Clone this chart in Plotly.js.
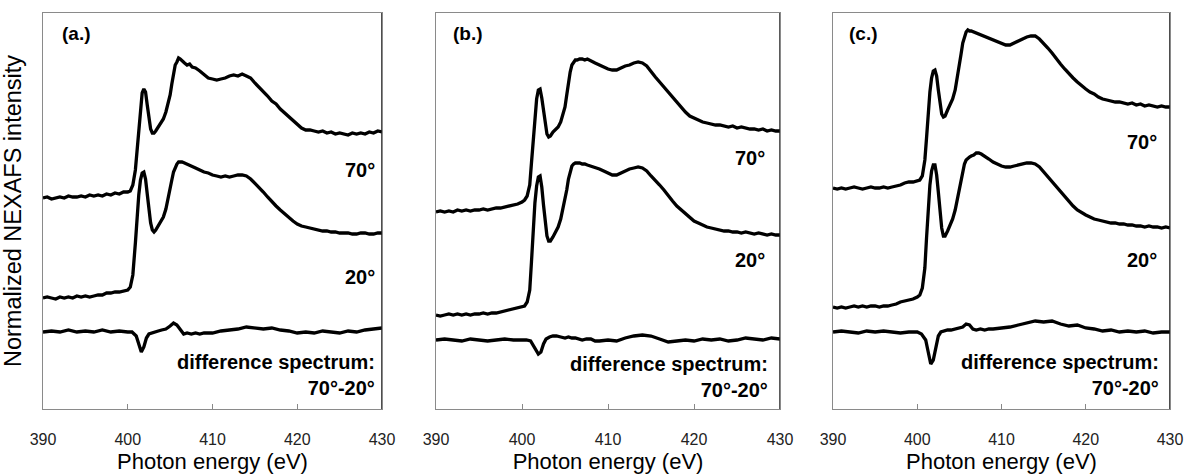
<!DOCTYPE html>
<html>
<head>
<meta charset="utf-8">
<script src="https://cdn.plot.ly/plotly-3.0.1.min.js"></script>
<style>html,body{margin:0;padding:0;background:#fff;}#chart{width:1186px;height:475px;}</style>
</head>
<body>
<div id="chart"></div>
<script>
// Photon energy grid (eV) for the 70° and 20° spectra
const energy = [390,390.5,391,391.5,392,392.5,393,393.5,394,394.5,395,395.5,396,396.5,397,397.5,398,398.5,399,399.5,400,
  400.3,400.6,400.9,401.1,401.3,401.5,401.7,401.9,402.1,402.3,402.5,402.7,402.9,403.1,403.3,403.6,403.9,404.2,404.5,404.8,
  405,405.2,405.4,405.6,405.8,406,406.2,406.4,406.7,407,407.3,407.6,
  408,408.5,409,409.5,410,410.5,411,411.5,412,412.5,413,413.5,414,414.5,415,415.5,416,416.5,417,417.5,
  418,418.5,419,419.5,420,420.5,421,421.5,422,422.5,423,423.5,424,424.5,425,425.5,426,426.5,427,427.5,428,428.5,429,429.5,430];

// Photon energy grid (eV) for the difference spectra
const energyDiff = [390,391,392,393,394,395,396,397,398,399,400,
  400.5,401,401.3,401.6,401.9,402.2,402.5,402.8,403.2,403.6,404,404.5,405,405.4,405.8,406.2,406.6,407,407.5,408,408.5,409,
  410,411,412,413,414,415,416,417,418,419,420,421,422,423,424,425,426,427,428,429,430];

// Panel (a.) – offset intensities (arb. units)
const a70 = [2.11,2.12,2.10,2.11,2.12,2.11,2.13,2.12,2.12,2.13,2.12,2.14,2.13,2.14,2.13,2.15,2.14,2.16,2.15,2.17,2.17,
  2.18,2.24,2.39,2.59,2.84,3.04,3.16,3.20,3.17,3.04,2.89,2.80,2.76,2.76,2.78,2.82,2.85,2.90,2.97,3.07,
  3.14,3.25,3.37,3.44,3.47,3.51,3.50,3.48,3.46,3.44,3.45,3.42,
  3.41,3.38,3.34,3.31,3.30,3.29,3.30,3.31,3.33,3.34,3.33,3.35,3.33,3.31,3.26,3.22,3.17,3.13,3.08,3.05,
  3.00,2.96,2.92,2.88,2.84,2.81,2.79,2.79,2.78,2.77,2.78,2.76,2.77,2.75,2.76,2.75,2.74,2.76,2.75,2.76,2.75,2.77,2.76,2.78,2.77];
const a20 = [1.11,1.12,1.11,1.10,1.12,1.11,1.12,1.11,1.13,1.12,1.13,1.12,1.13,1.14,1.14,1.16,1.16,1.17,1.17,1.18,1.19,
  1.22,1.34,1.66,1.92,2.14,2.29,2.36,2.37,2.30,2.15,1.99,1.86,1.79,1.77,1.79,1.83,1.87,1.92,2.00,2.11,
  2.19,2.29,2.37,2.42,2.45,2.47,2.47,2.47,2.46,2.45,2.44,2.43,
  2.41,2.39,2.37,2.36,2.34,2.33,2.32,2.33,2.32,2.33,2.34,2.34,2.33,2.30,2.26,2.22,2.17,2.12,2.07,2.03,
  1.99,1.95,1.91,1.88,1.85,1.83,1.82,1.81,1.80,1.79,1.78,1.78,1.77,1.77,1.76,1.76,1.76,1.75,1.75,1.76,1.76,1.75,1.75,1.76,1.76];
const aDiff = [0.77,0.78,0.77,0.79,0.77,0.78,0.77,0.79,0.77,0.78,0.77,
  0.77,0.73,0.65,0.57,0.62,0.71,0.75,0.76,0.77,0.78,0.79,0.80,0.83,0.86,0.84,0.80,0.75,0.76,0.75,0.76,0.75,0.76,
  0.76,0.78,0.79,0.80,0.82,0.81,0.80,0.81,0.79,0.78,0.76,0.77,0.76,0.78,0.77,0.76,0.78,0.77,0.79,0.80,0.81];

// Panel (b.)
const b70 = [1.97,1.98,1.97,1.98,1.97,1.99,1.98,1.99,1.98,1.99,1.99,2.00,1.99,2.00,2.01,2.01,2.02,2.03,2.04,2.05,2.07,
  2.09,2.13,2.24,2.46,2.71,2.92,3.10,3.19,3.20,3.11,2.97,2.83,2.75,2.72,2.73,2.77,2.80,2.82,2.87,2.95,
  3.02,3.14,3.27,3.37,3.44,3.47,3.49,3.49,3.50,3.50,3.49,3.50,
  3.48,3.46,3.44,3.42,3.40,3.39,3.39,3.41,3.43,3.44,3.46,3.47,3.46,3.43,3.37,3.32,3.27,3.22,3.17,3.11,
  3.06,3.01,2.97,2.93,2.91,2.89,2.87,2.86,2.85,2.84,2.84,2.83,2.82,2.83,2.81,2.82,2.81,2.80,2.80,2.79,2.80,2.78,2.79,2.78,2.78];
const b20 = [0.94,0.93,0.94,0.95,0.94,0.95,0.94,0.95,0.94,0.95,0.95,0.96,0.95,0.96,0.96,0.97,0.98,0.99,1.00,1.01,1.02,
  1.03,1.07,1.19,1.47,1.79,2.06,2.23,2.32,2.33,2.22,2.04,1.86,1.73,1.68,1.68,1.72,1.77,1.82,1.90,2.01,
  2.09,2.19,2.30,2.38,2.43,2.45,2.46,2.46,2.46,2.45,2.45,2.44,
  2.43,2.42,2.40,2.38,2.36,2.34,2.34,2.36,2.38,2.40,2.41,2.42,2.41,2.38,2.33,2.29,2.24,2.19,2.13,2.08,
  2.03,1.99,1.95,1.91,1.88,1.86,1.84,1.82,1.81,1.80,1.79,1.78,1.78,1.77,1.77,1.76,1.77,1.76,1.75,1.76,1.75,1.74,1.75,1.74,1.74];
const bDiff = [0.69,0.70,0.69,0.68,0.70,0.69,0.68,0.69,0.70,0.69,0.69,
  0.69,0.68,0.64,0.59,0.55,0.57,0.65,0.70,0.72,0.73,0.73,0.72,0.71,0.72,0.71,0.71,0.70,0.69,0.70,0.70,0.68,0.68,
  0.69,0.68,0.71,0.73,0.74,0.73,0.70,0.67,0.68,0.69,0.68,0.70,0.69,0.70,0.68,0.69,0.71,0.70,0.69,0.71,0.70];

// Panel (c.)
const c70 = [2.21,2.20,2.21,2.20,2.21,2.22,2.21,2.20,2.21,2.22,2.21,2.21,2.22,2.21,2.22,2.23,2.24,2.26,2.27,2.27,2.28,
  2.29,2.33,2.49,2.71,2.97,3.17,3.31,3.38,3.39,3.33,3.19,3.04,2.95,2.92,2.93,2.99,3.05,3.10,3.19,3.33,
  3.44,3.55,3.66,3.73,3.77,3.79,3.78,3.78,3.77,3.76,3.75,3.74,
  3.72,3.71,3.69,3.67,3.66,3.64,3.64,3.66,3.68,3.70,3.72,3.73,3.73,3.70,3.66,3.61,3.56,3.50,3.45,3.40,
  3.35,3.31,3.27,3.23,3.20,3.17,3.15,3.12,3.10,3.09,3.08,3.07,3.07,3.06,3.05,3.06,3.04,3.05,3.03,3.04,3.03,3.02,3.03,3.02,3.02];
const c20 = [1.02,1.01,1.02,1.01,1.02,1.03,1.02,1.03,1.02,1.03,1.03,1.02,1.03,1.03,1.04,1.05,1.07,1.08,1.09,1.10,1.12,
  1.14,1.21,1.41,1.71,2.01,2.24,2.38,2.44,2.44,2.34,2.17,1.97,1.81,1.73,1.73,1.78,1.84,1.90,1.99,2.12,
  2.21,2.31,2.39,2.45,2.49,2.51,2.52,2.53,2.54,2.56,2.56,2.55,
  2.53,2.50,2.47,2.45,2.43,2.42,2.42,2.43,2.44,2.45,2.46,2.46,2.45,2.42,2.37,2.32,2.27,2.22,2.17,2.12,
  2.07,2.03,1.99,1.96,1.94,1.92,1.90,1.89,1.88,1.87,1.86,1.86,1.85,1.85,1.84,1.84,1.83,1.83,1.82,1.83,1.82,1.82,1.81,1.82,1.81];
const cDiff = [0.77,0.78,0.77,0.76,0.78,0.77,0.78,0.77,0.76,0.77,0.77,
  0.75,0.69,0.57,0.45,0.49,0.63,0.73,0.77,0.78,0.79,0.79,0.80,0.81,0.82,0.85,0.84,0.80,0.79,0.80,0.79,0.80,0.80,
  0.81,0.82,0.84,0.86,0.88,0.87,0.88,0.85,0.83,0.84,0.81,0.80,0.78,0.79,0.77,0.78,0.77,0.78,0.76,0.77,0.77];

const panelLabels = ['(a.)','(b.)','(c.)'];
const curveLabels = ['70°','20°','difference spectrum:<br>70°-20°'];
const xTickVals = [390,400,410,420,430];
const xTickText = ['390','400','410','420','430'];
const xTitle = 'Photon energy (eV)';
const yTitle = 'Normalized NEXAFS intensity';

const panels = [
  {s70:a70, s20:a20, d:aDiff},
  {s70:b70, s20:b20, d:bDiff},
  {s70:c70, s20:c20, d:cDiff}
];

const FONT = 'Liberation Sans, Arial, sans-serif';
const lineStyle = {color:'#000', width:3.3};
const traces = [];
panels.forEach((p,i)=>{
  const xa = i===0 ? 'x' : 'x'+(i+1);
  const ya = i===0 ? 'y' : 'y'+(i+1);
  traces.push({x:energy, y:p.s70, xaxis:xa, yaxis:ya, mode:'lines', line:lineStyle, name:'70° '+panelLabels[i], hoverinfo:'x+y'});
  traces.push({x:energy, y:p.s20, xaxis:xa, yaxis:ya, mode:'lines', line:lineStyle, name:'20° '+panelLabels[i], hoverinfo:'x+y'});
  traces.push({x:energyDiff, y:p.d, xaxis:xa, yaxis:ya, mode:'lines', line:lineStyle, name:'70°-20° '+panelLabels[i], hoverinfo:'x+y'});
});

const domains = [[0,0.3008],[0.3487,0.6540],[0.7010,1.0]];
const layout = {
  width:1186, height:475,
  margin:{l:43, r:16, t:13, b:66},
  paper_bgcolor:'#fff', plot_bgcolor:'#fff',
  showlegend:false,
  font:{family:FONT, color:'#000'},
  annotations:[], shapes:[]
};

// label positions per panel: [panel-label x, right-edge x (70°/20°), right-edge x (difference), y70, y20, yDiff]
const labelPos = [
  [392.0, 429.4, 429.4, 2.39, 1.32, 0.345],
  [391.8, 428.5, 428.8, 2.51, 1.49, 0.325],
  [391.7, 428.7, 428.9, 2.67, 1.49, 0.345]
];

for(let i=0;i<3;i++){
  const sfx = i===0 ? '' : String(i+1);
  const xa = 'xaxis'+sfx, ya = 'yaxis'+sfx;
  layout[xa] = {
    domain:domains[i], range:[390,430], anchor:'y'+sfx,
    tickmode:'array', tickvals:xTickVals, ticktext:xTickText,
    ticks:'inside', ticklen:5, tickcolor:'#888', tickwidth:1,
    showline:true, linecolor:'#8a8a8a', linewidth:1, mirror:true,
    showgrid:false, zeroline:false,
    ticklabelstandoff:16,
    tickfont:{family:FONT, size:16, color:'#222'},
    title:{text:xTitle, font:{family:FONT, size:22, color:'#000'}, standoff:6}
  };
  layout[ya] = {
    domain:[0,1], range:[0,3.96], anchor:'x'+sfx,
    showticklabels:false, ticks:'', showgrid:false, zeroline:false,
    showline:true, linecolor:'#8a8a8a', linewidth:1, mirror:true
  };
  if(i===0){
    layout[ya].title = {text:yTitle, font:{family:FONT, size:23.5, color:'#000'}, standoff:14};
  }
  const xr = 'x'+sfx, yr = 'y'+sfx;
  const lp = labelPos[i];
  layout.shapes.push({type:'line', xref:xr, yref:yr+' domain', x0:430, x1:430, y0:0, y1:1, line:{color:'#222', width:1.6}});
  layout.annotations.push({xref:xr, yref:yr, x:lp[0], y:3.76, xanchor:'left', yanchor:'middle', text:panelLabels[i], showarrow:false, font:{family:FONT, size:19, color:'#000', weight:'bold'}});
  layout.annotations.push({xref:xr, yref:yr, x:lp[1], y:lp[3], xanchor:'right', yanchor:'middle', text:curveLabels[0], showarrow:false, font:{family:FONT, size:20, color:'#000', weight:'bold'}});
  layout.annotations.push({xref:xr, yref:yr, x:lp[1], y:lp[4], xanchor:'right', yanchor:'middle', text:curveLabels[1], showarrow:false, font:{family:FONT, size:20, color:'#000', weight:'bold'}});
  layout.annotations.push({xref:xr, yref:yr, x:lp[2], y:lp[5], xanchor:'right', yanchor:'middle', align:'right', text:curveLabels[2], showarrow:false, font:{family:FONT, size:20, color:'#000', weight:'bold'}});
}

Plotly.newPlot('chart', traces, layout, {displayModeBar:false, staticPlot:true});
</script>
</body>
</html>
